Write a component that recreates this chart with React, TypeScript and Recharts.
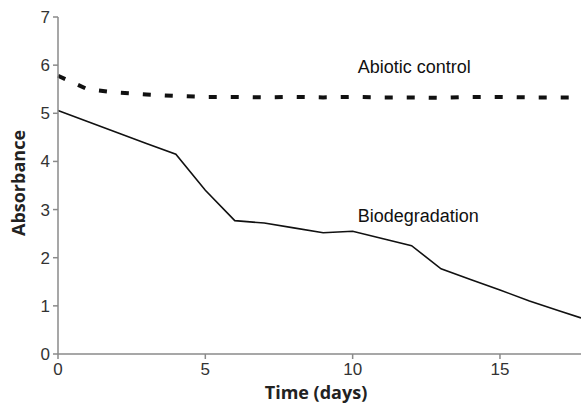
import { LineChart, Line, XAxis, YAxis, ReferenceDot, Label } from "recharts"

const days = [0, 1, 2, 3, 4, 5, 6, 7, 8, 9, 10, 11, 12, 13, 14, 15, 16, 17, 17.75]
const biodegradation = [5.06, 4.83, 4.6, 4.37, 4.15, 3.4, 2.77, 2.72, 2.62, 2.52, 2.55, 2.4, 2.25, 1.77, 1.55, 1.33, 1.1, 0.9, 0.75]
const abioticControl = [5.78, 5.5, 5.43, 5.39, 5.36, 5.34, 5.34, 5.33, 5.34, 5.33, 5.34, 5.33, 5.33, 5.32, 5.34, 5.34, 5.33, 5.33, 5.33]
const xTicks = [0, 5, 10, 15]
const yTicks = [0, 1, 2, 3, 4, 5, 6, 7]

const data = days.map((d, i) => ({
  day: d,
  bio: biodegradation[i],
  abiotic: abioticControl[i],
}))

const axisGray = "#8a8a8a"
const tickStyle = { fill: "#333", fontSize: 17, fontFamily: "Liberation Sans, Arial, sans-serif" }
const noteStyle = { fill: "#111", fontSize: 18, fontFamily: "Liberation Sans, Arial, sans-serif" }

export default function App() {
  return (
    <div style={{ position: "fixed", left: 0, top: 0, width: 581, height: 404, background: "#fff" }}>
      <style>{"html,body{margin:0;overflow:hidden}"}</style>
      <LineChart width={581} height={404} data={data} margin={{ top: 17, right: 0, bottom: 0, left: 0 }}>
        <XAxis
          dataKey="day"
          type="number"
          domain={[0, 17.75]}
          ticks={xTicks}
          height={50}
          stroke={axisGray}
          strokeWidth={1.5}
          tickSize={5}
          tickMargin={4}
          tick={tickStyle}
        >
          <Label
            content={() => (
              <text x={316} y={399} textAnchor="middle" fontSize={18} fontWeight="bold" fill="#222"
                fontFamily="Open Sans, sans-serif">
                Time (days)
              </text>
            )}
          />
        </XAxis>
        <YAxis
          type="number"
          domain={[0, 7]}
          ticks={yTicks}
          width={58}
          stroke={axisGray}
          strokeWidth={1.5}
          tickSize={5}
          tickMargin={3}
          tick={tickStyle}
        >
          <Label
            content={() => (
              <text x={25} y={183} transform="rotate(-90 25 183)" textAnchor="middle" fontSize={18}
                fontWeight="bold" fill="#222" fontFamily="Open Sans, sans-serif">
                Absorbance
              </text>
            )}
          />
        </YAxis>
        <Line
          dataKey="abiotic"
          type="linear"
          stroke="#111"
          strokeWidth={4}
          strokeDasharray="8 14"
          dot={false}
          isAnimationActive={false}
        />
        <Line
          dataKey="bio"
          type="linear"
          stroke="#111"
          strokeWidth={1.6}
          dot={false}
          isAnimationActive={false}
        />
        <ReferenceDot x={10.17} y={5.96} r={0} fill="none" stroke="none"
          label={{ value: "Abiotic control", position: "right", offset: 0, style: noteStyle }} />
        <ReferenceDot x={10.17} y={2.87} r={0} fill="none" stroke="none"
          label={{ value: "Biodegradation", position: "right", offset: 0, style: noteStyle }} />
      </LineChart>
    </div>
  )
}
